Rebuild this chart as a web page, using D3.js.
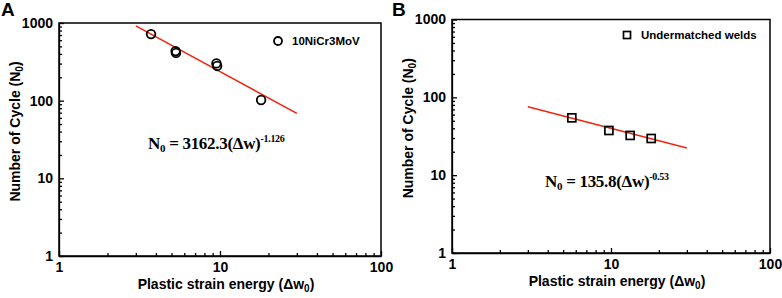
<!DOCTYPE html>
<html>
<head>
<meta charset="utf-8">
<script src="https://cdn.jsdelivr.net/npm/d3@7"></script>
<style>
  body { margin: 0; background: #fff; }
  svg { display: block; font-family: "Liberation Sans", Arial, sans-serif; }
  .axis text { font-size: 14px; font-weight: bold; fill: #000; }
  .axis path, .axis line { stroke: #000; stroke-width: 1.3; }
  .axis-title { font-size: 14px; font-weight: bold; }
  .equation { font-family: "Liberation Serif", "Times New Roman", serif; font-weight: bold; font-size: 17px; letter-spacing: -0.3px; }
</style>
</head>
<body>
<svg id="chart" width="782" height="298"></svg>
<script>
// tick values shared by both panels
const xTicks = [1, 10, 100];
const yTicks = [1, 10, 100, 1000];

// panel A: 10NiCr3MoV
const energyA = [3.73, 5.3, 5.33, 9.5, 9.6, 18.0];
const cyclesA = [720, 435, 412, 302, 280, 102];
const fitEnergyA = [3, 30];
const fitCyclesA = [918, 68.7];

// panel B: undermatched welds
const energyB = [5.67, 9.7, 13.2, 17.9];
const cyclesB = [54.5, 37.5, 32.4, 29.6];
const fitEnergyB = [3, 30];
const fitCyclesB = [75.8, 22.4];

const svg = d3.select('#chart');

function minorTicks(lo, hi) {
    let out = [];
    for (let d = lo; d < hi; d *= 10) {
        for (let k = 2; k < 10; k++) out.push(d * k);
    }
    return out;
}

function drawPanel(cfg) {
    const width = cfg.width, height = cfg.height;
    const g = svg.append('g')
        .attr('transform', `translate(${cfg.left},${cfg.top})`);

    const xScale = d3.scaleLog().domain([1, 100]).range([0, width]);
    const yScale = d3.scaleLog().domain([1, 1000]).range([height, 0]);

    // minor ticks first
    g.append('g')
        .attr('class', 'axis')
        .attr('transform', `translate(0,${height})`)
        .call(d3.axisBottom(xScale).tickValues(minorTicks(1, 100)).tickSize(-3).tickFormat('').tickSizeOuter(0))
        .select('.domain').remove();
    g.append('g')
        .attr('class', 'axis')
        .call(d3.axisLeft(yScale).tickValues(minorTicks(1, 1000)).tickSize(-3).tickFormat('').tickSizeOuter(0))
        .select('.domain').remove();

    g.append('g')
        .attr('class', 'axis x-axis')
        .attr('transform', `translate(0,${height})`)
        .call(d3.axisBottom(xScale).tickValues(xTicks).tickSize(-5).tickPadding(6)
            .tickFormat(d3.format('d')).tickSizeOuter(0));
    g.append('g')
        .attr('class', 'axis y-axis')
        .call(d3.axisLeft(yScale).tickValues(yTicks).tickSize(-5).tickPadding(6)
            .tickFormat(d3.format('d')).tickSizeOuter(0));

    // frame
    g.append('rect')
        .attr('width', width)
        .attr('height', height)
        .attr('fill', 'none')
        .attr('stroke', '#000')
        .attr('stroke-width', 1.5);

    // fit line
    const line = d3.line()
        .x(d => xScale(d[0]))
        .y(d => yScale(d[1]));
    g.append('path')
        .datum(d3.zip(cfg.fitX, cfg.fitY))
        .attr('d', line)
        .attr('fill', 'none')
        .attr('stroke', '#f2250f')
        .attr('stroke-width', 1.6);

    // markers
    const pts = d3.zip(cfg.x, cfg.y);
    if (cfg.shape === 'circle') {
        g.selectAll('.pt').data(pts).enter().append('circle')
            .attr('class', 'pt')
            .attr('cx', d => xScale(d[0]))
            .attr('cy', d => yScale(d[1]))
            .attr('r', 4.3)
            .attr('fill', 'none')
            .attr('stroke', '#000')
            .attr('stroke-width', 1.8);
        g.append('circle')
            .attr('cx', cfg.legendX).attr('cy', cfg.legendY)
            .attr('r', 4).attr('fill', 'none').attr('stroke', '#000').attr('stroke-width', 1.8);
    } else {
        g.selectAll('.pt').data(pts).enter().append('rect')
            .attr('class', 'pt')
            .attr('x', d => xScale(d[0]) - 4)
            .attr('y', d => yScale(d[1]) - 4)
            .attr('width', 8).attr('height', 8)
            .attr('fill', 'none')
            .attr('stroke', '#000')
            .attr('stroke-width', 1.7);
        g.append('rect')
            .attr('x', cfg.legendX - 3.5).attr('y', cfg.legendY - 3.5)
            .attr('width', 7).attr('height', 7)
            .attr('fill', 'none').attr('stroke', '#000').attr('stroke-width', 1.7);
    }
    g.append('text')
        .attr('x', cfg.legendX + 14)
        .attr('y', cfg.legendY + 4)
        .style('font-size', '11.5px')
        .style('font-weight', 'bold')
        .text(cfg.legend);

    // equation
    const eq = g.append('text')
        .attr('class', 'equation')
        .attr('x', cfg.eqX)
        .attr('y', cfg.eqY);
    eq.append('tspan').text('N');
    eq.append('tspan').attr('dy', 3).style('font-size', '11px').text('0');
    eq.append('tspan').attr('dy', -3).text(' = ' + cfg.coef + '(Δw)');
    eq.append('tspan').attr('dy', -7).style('font-size', '10px').text(cfg.exp);

    // axis titles
    const xt = g.append('text')
        .attr('class', 'axis-title')
        .attr('x', width / 2 + 6)
        .attr('y', height + 33)
        .style('text-anchor', 'middle');
    xt.append('tspan').text('Plastic strain energy (Δw');
    xt.append('tspan').attr('dy', 3).style('font-size', '10px').text('0');
    xt.append('tspan').attr('dy', -3).text(')');

    const yt = g.append('text')
        .attr('class', 'axis-title')
        .attr('transform', 'rotate(-90)')
        .attr('x', -height / 2 + 8)
        .attr('y', -39)
        .style('text-anchor', 'middle');
    yt.append('tspan').text('Number of Cycle (N');
    yt.append('tspan').attr('dy', 3).style('font-size', '10px').text('0');
    yt.append('tspan').attr('dy', -3).text(')');

    // panel letter
    svg.append('text')
        .attr('x', cfg.letterX)
        .attr('y', cfg.letterY)
        .style('font-size', '19px')
        .style('font-weight', 'bold')
        .text(cfg.letter);
}

drawPanel({
    left: 59, top: 23, width: 322, height: 233,
    x: energyA, y: cyclesA, fitX: fitEnergyA, fitY: fitCyclesA,
    shape: 'circle', legend: '10NiCr3MoV', legendX: 219, legendY: 18,
    coef: '3162.3', exp: '-1.126', eqX: 89, eqY: 126,
    letter: 'A', letterX: 1, letterY: 16
});

drawPanel({
    left: 452, top: 19.5, width: 318, height: 233.5,
    x: energyB, y: cyclesB, fitX: fitEnergyB, fitY: fitCyclesB,
    shape: 'square', legend: 'Undermatched welds', legendX: 175, legendY: 15.5,
    coef: '135.8', exp: '-0.53', eqX: 93, eqY: 167,
    letter: 'B', letterX: 392, letterY: 16
});
</script>
</body>
</html>
